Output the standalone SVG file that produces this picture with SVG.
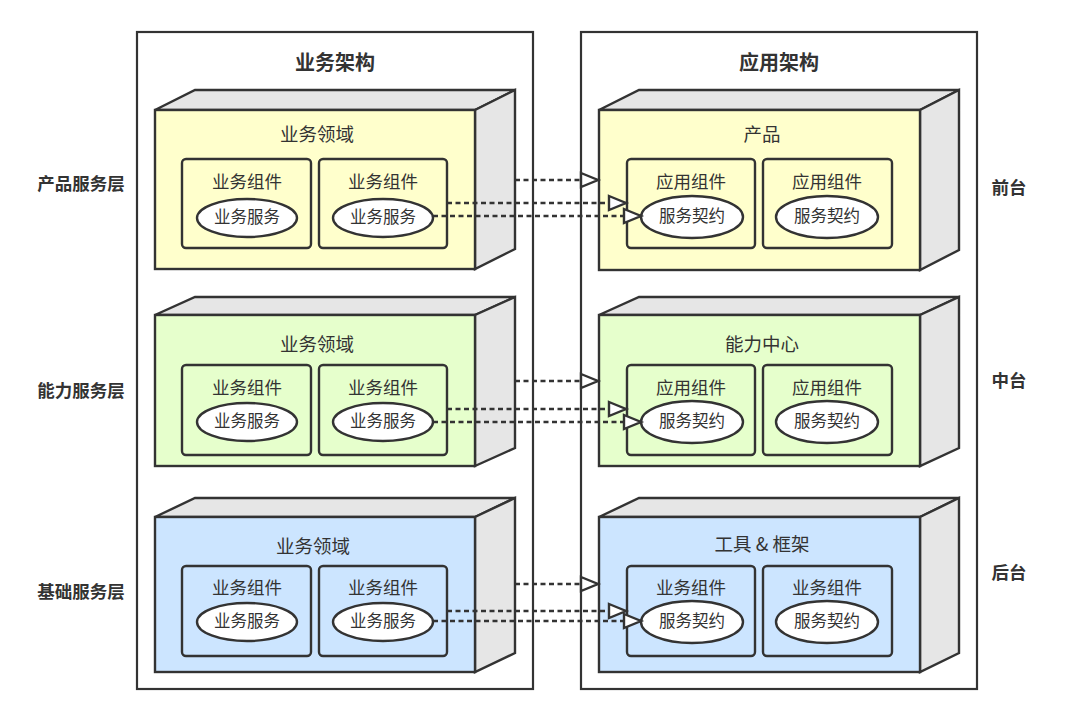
<svg xmlns="http://www.w3.org/2000/svg" width="1080" height="721" viewBox="0 0 1080 721">
<style>
text{font-family:"Noto Sans CJK SC","Liberation Sans",sans-serif;fill:#333333;text-anchor:middle;dominant-baseline:central;transform:translate(0px,-2px)}
.hd{font-size:20px;font-weight:bold}
.side{font-size:17.5px;font-weight:bold}
.t{font-size:18.5px}
.c{font-size:17.5px}
.e{font-size:16.5px}
.frame{fill:#ffffff;stroke:#333333;stroke-width:2.2}
.side3d{fill:#e6e6e6;stroke:#333333;stroke-width:2.4;stroke-linejoin:miter}
.y{fill:#ffffcc}.g{fill:#e6ffcc}.b{fill:#cce5ff}
.front{stroke:#333333;stroke-width:2.4}
.comp{stroke:#333333;stroke-width:2.4}
.ell{fill:#ffffff;stroke:#333333;stroke-width:2.4}
.dash{stroke:#333333;stroke-width:2.6;stroke-dasharray:5,3.5;fill:none;marker-end:url(#tri)}
</style>
<defs>
<marker id="tri" markerUnits="userSpaceOnUse" markerWidth="20" markerHeight="16" refX="17" refY="7" orient="auto" overflow="visible">
<path d="M0,0 L17,7 L0,14 Z" fill="#ffffff" stroke="#333333" stroke-width="2.4" stroke-linejoin="miter"/>
</marker>
</defs>
<rect width="1080" height="721" fill="#ffffff"/>

<g id="biz-frame">
<rect class="frame" x="137" y="32" width="396" height="657"/>
<text class="hd" x="335" y="63">业务架构</text>
</g>
<g id="app-frame">
<rect class="frame" x="581" y="32" width="396" height="657"/>
<text class="hd" x="779" y="63">应用架构</text>
</g>

<g id="side-labels">
<text class="side" x="81" y="184">产品服务层</text>
<text class="side" x="81" y="391">能力服务层</text>
<text class="side" x="81" y="592">基础服务层</text>
<text class="side" x="1009" y="188">前台</text>
<text class="side" x="1009" y="381">中台</text>
<text class="side" x="1009" y="573">后台</text>
</g>

<!-- Row 1 left -->
<g id="biz-domain-1">
<path class="side3d" d="M155,110 L195,90 L515,90 L475,110 Z"/>
<path class="side3d" d="M475,110 L515,90 L515,249 L475,269 Z"/>
<rect class="front y" x="155" y="110" width="320" height="159"/>
<text class="t" x="317" y="135">业务领域</text>
<g id="biz-comp-1a">
<rect class="comp y" x="182" y="159" width="129" height="89" rx="4"/>
<text class="c" x="247" y="182">业务组件</text>
<ellipse class="ell" cx="247" cy="218" rx="50" ry="19"/>
<text class="e" x="247" y="218">业务服务</text>
</g>
<g id="biz-comp-1b">
<rect class="comp y" x="319" y="159" width="128" height="89" rx="4"/>
<text class="c" x="383" y="182">业务组件</text>
<ellipse class="ell" cx="383" cy="218" rx="50" ry="19"/>
<text class="e" x="383" y="218">业务服务</text>
</g>
</g>

<!-- Row 2 left -->
<g id="biz-domain-2">
<path class="side3d" d="M155,315 L195,297 L515,297 L475,315 Z"/>
<path class="side3d" d="M475,315 L515,297 L515,448 L475,466 Z"/>
<rect class="front g" x="155" y="315" width="320" height="151"/>
<text class="t" x="317" y="345">业务领域</text>
<g id="biz-comp-2a">
<rect class="comp g" x="182" y="365" width="129" height="90" rx="4"/>
<text class="c" x="247" y="388">业务组件</text>
<ellipse class="ell" cx="247" cy="422" rx="50" ry="19"/>
<text class="e" x="247" y="422">业务服务</text>
</g>
<g id="biz-comp-2b">
<rect class="comp g" x="319" y="365" width="128" height="90" rx="4"/>
<text class="c" x="383" y="388">业务组件</text>
<ellipse class="ell" cx="383" cy="422" rx="50" ry="19"/>
<text class="e" x="383" y="422">业务服务</text>
</g>
</g>

<!-- Row 3 left -->
<g id="biz-domain-3">
<path class="side3d" d="M155,517 L195,498 L515,498 L475,517 Z"/>
<path class="side3d" d="M475,517 L515,498 L515,653 L475,672 Z"/>
<rect class="front b" x="155" y="517" width="320" height="155"/>
<text class="t" x="313" y="547">业务领域</text>
<g id="biz-comp-3a">
<rect class="comp b" x="182" y="566" width="129" height="90" rx="4"/>
<text class="c" x="247" y="588">业务组件</text>
<ellipse class="ell" cx="247" cy="622" rx="50" ry="19"/>
<text class="e" x="247" y="622">业务服务</text>
</g>
<g id="biz-comp-3b">
<rect class="comp b" x="319" y="566" width="128" height="90" rx="4"/>
<text class="c" x="383" y="588">业务组件</text>
<ellipse class="ell" cx="383" cy="622" rx="50" ry="19"/>
<text class="e" x="383" y="622">业务服务</text>
</g>
</g>

<!-- Row 1 right -->
<g id="app-product">
<path class="side3d" d="M599,110 L639,90 L959,90 L920,110 Z"/>
<path class="side3d" d="M920,110 L959,90 L959,250 L920,270 Z"/>
<rect class="front y" x="599" y="110" width="321" height="160"/>
<text class="t" x="762" y="135">产品</text>
<g id="app-comp-1a">
<rect class="comp y" x="627" y="159" width="128" height="89" rx="4"/>
<text class="c" x="691" y="182">应用组件</text>
<ellipse class="ell" cx="692" cy="217" rx="51" ry="21"/>
<text class="e" x="692" y="217">服务契约</text>
</g>
<g id="app-comp-1b">
<rect class="comp y" x="763" y="159" width="129" height="89" rx="4"/>
<text class="c" x="827" y="182">应用组件</text>
<ellipse class="ell" cx="827" cy="217" rx="51" ry="21"/>
<text class="e" x="827" y="217">服务契约</text>
</g>
</g>

<!-- Row 2 right -->
<g id="app-capability">
<path class="side3d" d="M599,315 L639,297 L959,297 L920,315 Z"/>
<path class="side3d" d="M920,315 L959,297 L959,448 L920,466 Z"/>
<rect class="front g" x="599" y="315" width="321" height="151"/>
<text class="t" x="762" y="345">能力中心</text>
<g id="app-comp-2a">
<rect class="comp g" x="627" y="365" width="128" height="90" rx="4"/>
<text class="c" x="691" y="388">应用组件</text>
<ellipse class="ell" cx="692" cy="422" rx="51" ry="21"/>
<text class="e" x="692" y="422">服务契约</text>
</g>
<g id="app-comp-2b">
<rect class="comp g" x="763" y="365" width="129" height="90" rx="4"/>
<text class="c" x="827" y="388">应用组件</text>
<ellipse class="ell" cx="827" cy="422" rx="51" ry="21"/>
<text class="e" x="827" y="422">服务契约</text>
</g>
</g>

<!-- Row 3 right -->
<g id="app-tools">
<path class="side3d" d="M599,517 L639,498 L959,498 L920,517 Z"/>
<path class="side3d" d="M920,517 L959,498 L959,653 L920,672 Z"/>
<rect class="front b" x="599" y="517" width="321" height="155"/>
<text class="t" x="762" y="545">工具 &amp; 框架</text>
<g id="app-comp-3a">
<rect class="comp b" x="627" y="566" width="128" height="90" rx="4"/>
<text class="c" x="691" y="588">业务组件</text>
<ellipse class="ell" cx="692" cy="622" rx="51" ry="21"/>
<text class="e" x="692" y="622">服务契约</text>
</g>
<g id="app-comp-3b">
<rect class="comp b" x="763" y="566" width="129" height="90" rx="4"/>
<text class="c" x="827" y="588">业务组件</text>
<ellipse class="ell" cx="827" cy="622" rx="51" ry="21"/>
<text class="e" x="827" y="622">服务契约</text>
</g>
</g>

<g id="connectors">
<line class="dash" x1="515" y1="180" x2="598" y2="180"/>
<line class="dash" x1="447" y1="203" x2="626" y2="203"/>
<line class="dash" x1="433" y1="216" x2="641" y2="216"/>
<line class="dash" x1="515" y1="381" x2="598" y2="381"/>
<line class="dash" x1="447" y1="409" x2="626" y2="409"/>
<line class="dash" x1="433" y1="422" x2="641" y2="422"/>
<line class="dash" x1="515" y1="584" x2="598" y2="584"/>
<line class="dash" x1="447" y1="611" x2="626" y2="611"/>
<line class="dash" x1="433" y1="621" x2="641" y2="621"/>
</g>
</svg>
